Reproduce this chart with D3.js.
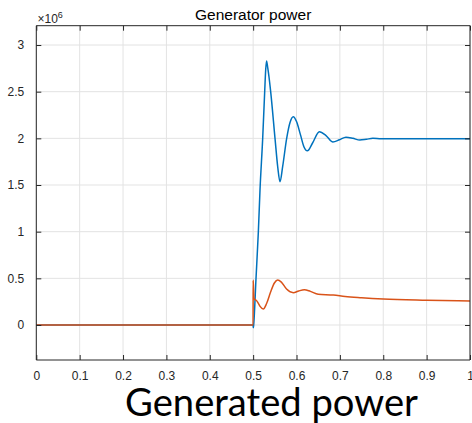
<!DOCTYPE html>
<html><head><meta charset="utf-8">
<script src="https://cdn.jsdelivr.net/npm/d3@7"></script>
<style>
html,body{margin:0;padding:0;background:#fff;}
svg{display:block;}
</style></head>
<body>
<svg id="chart" width="472" height="423"></svg>
<script>
// Data (power in units of 1e6 W, time in s)
const blueT = [0, 0.4995, 0.5, 0.5005, 0.5012, 0.5066, 0.512, 0.5158, 0.522, 0.5266, 0.529, 0.531, 0.5335, 0.5365, 0.5404, 0.5504, 0.5566, 0.562, 0.568, 0.5773, 0.585, 0.5926, 0.6, 0.609, 0.617, 0.625, 0.637, 0.6526, 0.668, 0.684, 0.699, 0.714, 0.73, 0.746, 0.761, 0.776, 0.795, 1.0];
const blueV = [0, 0, -0.01, -0.03, 0, 0.5, 1.0, 1.446, 2.0, 2.5, 2.74, 2.83, 2.76, 2.66, 2.5, 2.0, 1.696, 1.535, 1.696, 2.0, 2.17, 2.232, 2.18, 2.04, 1.91, 1.866, 1.95, 2.07, 2.03, 1.961, 1.985, 2.012, 2.0, 1.982, 1.99, 2.0, 1.995, 1.995];
const orangeT = [0, 0.4999, 0.5, 0.5008, 0.502, 0.5045, 0.507, 0.511, 0.516, 0.5235, 0.531, 0.54, 0.549, 0.5566, 0.565, 0.577, 0.5926, 0.605, 0.618, 0.632, 0.65, 0.685, 0.712, 0.75, 0.8, 0.9, 1.0];
const orangeV = [0, 0, 0.48, 0.40, 0.29, 0.27, 0.265, 0.24, 0.2, 0.171, 0.23, 0.35, 0.45, 0.482, 0.46, 0.385, 0.346, 0.365, 0.378, 0.36, 0.329, 0.321, 0.305, 0.292, 0.279, 0.266, 0.257];
const xTicks = [0, 0.1, 0.2, 0.3, 0.4, 0.5, 0.6, 0.7, 0.8, 0.9, 1];
const yTicks = [0, 0.5, 1, 1.5, 2, 2.5, 3];
const xTickLabels = ["0", "0.1", "0.2", "0.3", "0.4", "0.5", "0.6", "0.7", "0.8", "0.9", "1"];
const yTickLabels = ["0", "0.5", "1", "1.5", "2", "2.5", "3"];

const svg = d3.select("#chart");
const L = 36.3, R = 470, T = 25.7, B = 360;
const x = d3.scaleLinear().domain([0, 1]).range([L, R]);
const y = d3.scaleLinear().domain([-0.375, 3.207]).range([B, T]);
const axisColor = "#262626";
const font = "'Liberation Sans', Arial, Helvetica, sans-serif";

// grid
const grid = svg.append("g");
grid.selectAll("line.gx").data(xTicks).join("line")
  .attr("x1", d => x(d)).attr("x2", d => x(d)).attr("y1", T).attr("y2", B)
  .attr("stroke", "#e3e3e3").attr("stroke-width", 1);
grid.selectAll("line.gy").data(yTicks).join("line")
  .attr("x1", L).attr("x2", R).attr("y1", d => y(d)).attr("y2", d => y(d))
  .attr("stroke", "#e3e3e3").attr("stroke-width", 1);

// lines
const line = (ts, vs) => d3.line().x((d, i) => x(ts[i])).y(d => y(d)).curve(d3.curveMonotoneX)(vs);
svg.append("path").attr("d", line(blueT, blueV)).attr("fill", "none")
  .attr("stroke", "#0072BD").attr("stroke-width", 1.5).attr("stroke-linejoin", "round");
svg.append("path").attr("d", line(orangeT, orangeV)).attr("fill", "none")
  .attr("stroke", "#D95319").attr("stroke-width", 1.5).attr("stroke-linejoin", "round");

// axes
const tickLen = 5;
const xAxisB = d3.axisBottom(x).tickValues(xTicks).tickSize(-tickLen).tickPadding(11)
  .tickFormat((d, i) => xTickLabels[i]);
const gxb = svg.append("g").attr("transform", `translate(0,${B})`).call(xAxisB);
const xAxisT = d3.axisTop(x).tickValues(xTicks).tickSize(-tickLen).tickFormat("");
const gxt = svg.append("g").attr("transform", `translate(0,${T})`).call(xAxisT);
const yAxisL = d3.axisLeft(y).tickValues(yTicks).tickSize(-tickLen).tickPadding(12)
  .tickFormat((d, i) => yTickLabels[i]);
const gyl = svg.append("g").attr("transform", `translate(${L},0)`).call(yAxisL);
const yAxisR = d3.axisRight(y).tickValues(yTicks).tickSize(-tickLen).tickFormat("");
const gyr = svg.append("g").attr("transform", `translate(${R},0)`).call(yAxisR);
[gxb, gxt, gyl, gyr].forEach(g => {
  g.selectAll("path.domain").attr("stroke", axisColor).attr("stroke-width", 1);
  g.selectAll(".tick line").attr("stroke", axisColor).attr("stroke-width", 1);
  g.selectAll("text").attr("fill", axisColor).style("font-family", font).style("font-size", "12px");
});
gxb.selectAll("path.domain").attr("d", `M${L},0H${R}`);
gxt.selectAll("path.domain").attr("d", `M${L},0H${R}`);
gyl.selectAll("path.domain").attr("d", `M0,${T}V${B}`);
gyr.selectAll("path.domain").attr("d", `M0,${T}V${B}`);

// exponent label
const ex = svg.append("text").attr("x", 37.5).attr("y", 23.3).attr("fill", axisColor)
  .style("font-family", font).style("font-size", "12px");
ex.append("tspan").text("×10");
ex.append("tspan").attr("dy", -5).style("font-size", "9px").text("6");

// title
svg.append("text").attr("x", (L + R) / 2).attr("y", 20).attr("text-anchor", "middle")
  .attr("fill", "#000").style("font-family", font).style("font-size", "15.5px").text("Generator power");

// caption
const cap = svg.append("text").attr("x", 271.5).attr("y", 416).attr("text-anchor", "middle")
  .attr("fill", "#000").style("font-family", "Lato, 'Open Sans', sans-serif").style("font-size", "40px")
  .text("Generated power");
const w = cap.node().getComputedTextLength();
cap.style("font-size", (40 * 293 / w) + "px");
</script>
</body></html>
